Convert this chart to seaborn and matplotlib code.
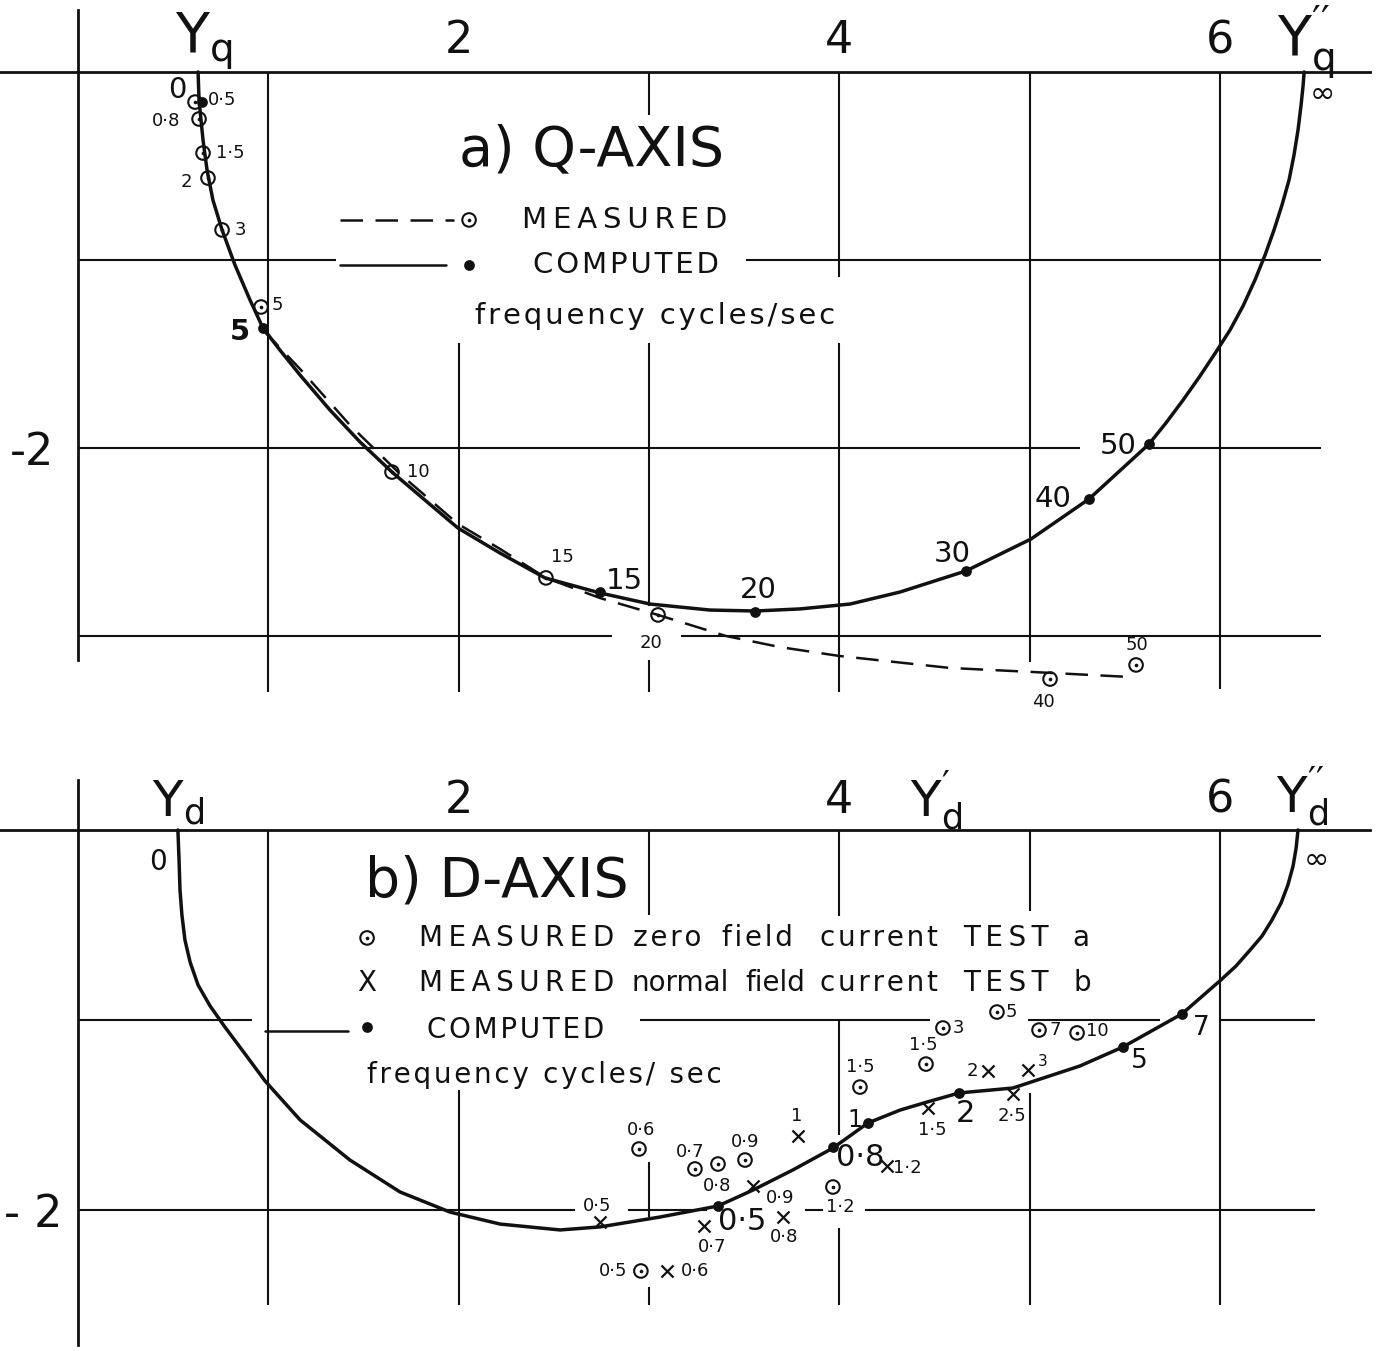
import matplotlib
matplotlib.use("Agg")
import matplotlib.pyplot as plt
from matplotlib.transforms import Affine2D
import seaborn as sns

# ---------------- a) Q-axis admittance locus ----------------
# computed locus (solid line), from Yq down and round to Yq''
q_curve_x = [0.631, 0.636, 0.657, 0.678, 0.709, 0.757, 0.825, 0.904, 0.972, 1.061,
             1.167, 1.324, 1.482, 1.650, 1.823, 1.997, 2.218, 2.454, 2.743, 3.006,
             3.321, 3.558, 3.794, 4.057, 4.320, 4.666, 5.008, 5.313, 5.628, 5.717,
             5.807, 5.896, 5.980, 6.054, 6.122, 6.185, 6.238, 6.285, 6.327, 6.364,
             6.390, 6.411, 6.427, 6.438, 6.443]
q_curve_y = [0.000, -0.149, -0.362, -0.521, -0.681, -0.840, -1.027, -1.213, -1.362, -1.479,
             -1.612, -1.798, -1.968, -2.128, -2.277, -2.426, -2.559, -2.691, -2.771, -2.830,
             -2.862, -2.867, -2.856, -2.830, -2.766, -2.654, -2.484, -2.271, -1.979, -1.867,
             -1.745, -1.617, -1.489, -1.372, -1.245, -1.106, -0.973, -0.840, -0.707, -0.574,
             -0.441, -0.309, -0.176, -0.069, 0.000]
# measured locus (dashed line)
q_meas_line_x = [0.972, 1.167, 1.429, 1.692, 1.997, 2.218, 2.459, 2.743, 3.048, 3.405,
                 3.689, 3.999, 4.582, 5.008, 5.528]
q_meas_line_y = [-1.372, -1.580, -1.878, -2.138, -2.404, -2.537, -2.691, -2.798, -2.888, -3.000,
                 -3.059, -3.106, -3.170, -3.191, -3.218]
# measured points, frequency 0.5, 0.8, 1.5, 2, 3, 5, 10, 15, 20, 40, 50 c/s
q_meas_x = [0.615, 0.636, 0.657, 0.683, 0.757, 0.962, 1.650, 2.459, 3.048, 5.108, 5.560]
q_meas_y = [-0.160, -0.250, -0.431, -0.564, -0.840, -1.250, -2.128, -2.691, -2.888, -3.229, -3.154]
# computed points, frequency 0.5, 5, 15, 20, 30, 40, 50 c/s
q_comp_x = [0.652, 0.972, 2.743, 3.558, 4.666, 5.313, 5.628]
q_comp_y = [-0.160, -1.362, -2.766, -2.872, -2.654, -2.271, -1.979]

# ---------------- b) D-axis admittance locus ----------------
d_curve_x = [0.525, 0.531, 0.536, 0.546, 0.562, 0.589, 0.631, 0.694, 0.772, 0.878,
             0.983, 1.167, 1.429, 1.692, 1.955, 2.218, 2.533, 2.743, 3.058, 3.363,
             3.547, 3.757, 3.967, 4.151, 4.320, 4.461, 4.630, 4.913, 5.265, 5.491,
             5.801, 6.006, 6.085, 6.159, 6.222, 6.274, 6.322, 6.358, 6.385, 6.401, 6.411]
d_curve_y = [0.000, -0.158, -0.316, -0.447, -0.579, -0.695, -0.816, -0.926, -1.037, -1.179,
             -1.321, -1.526, -1.737, -1.905, -2.011, -2.074, -2.105, -2.089, -2.037, -1.979,
             -1.895, -1.789, -1.674, -1.542, -1.474, -1.432, -1.384, -1.358, -1.242, -1.142,
             -0.968, -0.789, -0.716, -0.632, -0.558, -0.474, -0.384, -0.289, -0.190, -0.095,
             0.000]
# computed points, frequency 0.5, 0.8, 1, 2, 5, 7 c/s
d_comp_x = [3.363, 3.967, 4.151, 4.630, 5.491, 5.801]
d_comp_y = [-1.979, -1.668, -1.542, -1.384, -1.142, -0.968]
# measured, zero field current (test a)
d_test_a_x = [2.948, 3.242, 3.363, 3.505, 3.967, 2.958, 4.109, 4.456, 4.545, 4.829, 5.050, 5.250]
d_test_a_y = [-1.679, -1.784, -1.758, -1.737, -1.879, -2.321, -1.353, -1.232, -1.042, -0.958,
              -1.053, -1.068]
# measured, normal field current (test b)
d_test_b_x = [2.743, 3.095, 3.290, 3.547, 3.705, 3.784, 4.251, 4.467, 4.782, 4.913, 4.992]
d_test_b_y = [-2.063, -2.321, -2.084, -1.874, -2.037, -1.611, -1.768, -1.463, -1.268, -1.389,
              -1.263]

x_tick_values = [2, 4, 6]
x_tick_labels = ["2", "4", "6"]

# ---------------------------------------------------------------
sns.set_theme(style="white")
plt.rcParams["font.family"] = ["DejaVu Sans"]
plt.rcParams["mathtext.fontset"] = "dejavusans"
INK = "#111111"

W, H = 1381, 1351
fig = plt.figure(figsize=(W / 100, H / 100), dpi=100)
fig.patch.set_facecolor("white")
# sheet coordinates in pixels, origin top-left, for lettering
sheet = Affine2D().scale(1 / W, -1 / H).translate(0, 1) + fig.transFigure

X0, SX = 78.0, 190.3


def panel(top, bottom, y0, sy):
    ax = fig.add_axes([0, 1 - bottom / H, 1, (bottom - top) / H])
    ax.set_xlim(-X0 / SX, (W - X0) / SX)
    ax.set_ylim(-(bottom - y0) / sy, (y0 - top) / sy)
    ax.patch.set_visible(False)
    return ax


ax_q = panel(0, 720, 72, 188.0)
ax_d = panel(720, H, 830, 190.0)


def curve(ax, xs, ys, **kw):
    sns.lineplot(x=xs, y=ys, sort=False, estimator=None, color=INK, ax=ax, zorder=3, **kw)


def dotted_circles(ax, xs, ys, s=95):
    sns.scatterplot(x=xs, y=ys, marker="o", s=s, facecolor="none", edgecolor=INK,
                    linewidth=1.5, ax=ax, zorder=5)
    sns.scatterplot(x=xs, y=ys, marker="o", s=7, color=INK, edgecolor=INK,
                    linewidth=0, ax=ax, zorder=6)


def dots(ax, xs, ys, s=60):
    sns.scatterplot(x=xs, y=ys, marker="o", s=s, color=INK, edgecolor=INK,
                    linewidth=0, ax=ax, zorder=6)


def crosses(ax, xs, ys, s=75):
    sns.scatterplot(x=xs, y=ys, marker="x", s=s, color=INK, linewidth=1.6, ax=ax, zorder=6)


def frame(ax, xspan, yspan, ylabel, xpad, ypad):
    for side in ("right", "bottom"):
        ax.spines[side].set_visible(False)
    ax.spines["top"].set_position(("data", 0))
    ax.spines["top"].set_bounds(*xspan)
    ax.spines["left"].set_position(("data", 0))
    ax.spines["left"].set_bounds(*yspan)
    for side in ("top", "left"):
        ax.spines[side].set_visible(True)
        ax.spines[side].set_color(INK)
        ax.spines[side].set_linewidth(2.0)
    ax.xaxis.set_ticks_position("top")
    ax.set_xticks(x_tick_values)
    ax.set_xticklabels(x_tick_labels)
    ax.set_yticks([-2])
    ax.set_yticklabels([ylabel])
    ax.tick_params(length=0, labelsize=32, colors=INK, labeltop=True, labelbottom=False)
    ax.tick_params(axis="x", pad=xpad)
    ax.tick_params(axis="y", pad=ypad)
    ax.set_xlabel("")
    ax.set_ylabel("")
    ax.grid(False)


def grid(ax, vert, horiz):
    for x, segs in vert.items():
        for y1, y2 in segs:
            ax.vlines(x, y2, y1, color=INK, lw=1.5, zorder=1)
    for y, segs in horiz.items():
        for x1, x2 in segs:
            ax.hlines(y, x1, x2, color=INK, lw=1.5, zorder=1)


def put(px, py, s, size, **kw):
    kw.setdefault("ha", "center")
    kw.setdefault("va", "center")
    fig.text(px, py, s, transform=sheet, fontsize=size, color=INK, **kw)


def spaced(s, sep="\u200a"):
    return sep.join(s)


# ---------------- panel a ----------------
grid(ax_q,
     {1: [(0, -3.30)], 2: [(-1.44, -3.30)], 3: [(0, -0.23), (-1.44, -2.84), (-3.13, -3.30)],
      4: [(0, -1.09), (-1.44, -3.30)], 5: [(0, -3.14)], 6: [(0, -3.28)]},
     {-1: [(0, 1.356), (3.51, 6.53)], -2: [(0, 5.265), (5.64, 6.53)],
      -3: [(0, 2.807), (3.169, 6.53)]})
curve(ax_q, q_curve_x, q_curve_y, linewidth=2.5)
curve(ax_q, q_meas_line_x, q_meas_line_y, linewidth=1.8, linestyle=(0, (9, 5)))
dotted_circles(ax_q, q_meas_x, q_meas_y)
dots(ax_q, q_comp_x, q_comp_y)
frame(ax_q, (-0.41, 6.79), (-3.13, 0.33), "-2", 7, 17)

# legend glyphs
ax_q.plot([1.377, 1.976], [-0.787, -0.787], color=INK, lw=1.8, ls=(0, (9, 5)))
dotted_circles(ax_q, [2.055], [-0.787])
ax_q.plot([1.377, 1.934], [-1.027, -1.027], color=INK, lw=1.8)
dots(ax_q, [2.055], [-1.027])

put(592, 150, "a) Q-AXIS", 40)
put(625, 220, spaced("MEASURED", "\u2009"), 21)
put(626, 265, spaced("COMPUTED"), 21)
put(655, 316, spaced("frequency cycles/sec"), 21)

# frequency labels
for s, px, py in [("0·5", 222, 100), ("0·8", 166, 121), ("1·5", 230, 153), ("2", 186, 182),
                  ("3", 240, 230), ("5", 277, 305), ("10", 418, 472), ("15", 562, 557),
                  ("20", 651, 643), ("40", 1043, 702), ("50", 1137, 645)]:
    put(px, py, s, 13)
for s, px, py in [("0", 177, 90), ("15", 624, 581), ("20", 758, 590),
                  ("30", 952, 554), ("40", 1053, 499), ("50", 1118, 446)]:
    put(px, py, s, 21)
put(240, 332, "5", 21, fontweight="bold")
put(1322, 94, "∞", 22)

put(175, 52, r"$\mathregular{Y_q}$", 40, ha="left", va="baseline")
put(1277, 55, r"$\mathregular{Y_q^{\prime\prime}}$", 40, ha="left", va="baseline")

# ---------------- panel b ----------------
grid(ax_d,
     {1: [(0, -2.5)], 2: [(-1.37, -2.5)], 3: [(0, -0.447), (-1.747, -2.037), (-2.405, -2.5)],
      4: [(0, -0.45), (-1.0, -1.605), (-2.095, -2.5)], 5: [(0, -0.426), (-1.384, -2.5)],
      6: [(0, -2.5)]},
     {-1: [(0, 0.914), (2.953, 4.477), (4.992, 5.686), (6.006, 6.50)],
      -2: [(0, 2.612), (2.890, 3.305), (3.820, 3.915), (4.136, 6.50)]})
curve(ax_d, d_curve_x, d_curve_y, linewidth=2.5)
dotted_circles(ax_d, d_test_a_x, d_test_a_y)
crosses(ax_d, d_test_b_x, d_test_b_y)
dots(ax_d, d_comp_x, d_comp_y)
frame(ax_d, (-0.41, 6.79), (-2.711, 0.263), "- 2", 6, 11)

# legend glyphs
dotted_circles(ax_d, [1.519], [-0.568])
ax_d.plot([0.983, 1.419], [-1.058, -1.058], color=INK, lw=1.8)
dots(ax_d, [1.519], [-1.037])

put(497, 882, "b) D-AXIS", 40)
put(367, 983, "X", 20)
row_words = [("MEASURED", 517), ("current", 879), ("TEST", 1006)]
for py in (938, 983):
    for w, px in row_words:
        put(px, py, spaced(w, "\u2009") if w.isupper() else spaced(w), 20)
put(667, 938, spaced("zero"), 20)
put(757, 938, spaced("field"), 20)
put(1081, 938, "a", 20)
put(680, 983, "normal", 20)
put(775, 983, "field", 20)
put(1082, 983, "b", 20)
put(516, 1030, spaced("COMPUTED"), 20)
put(544, 1075, spaced("frequency cycles/ sec"), 20)

for s, px, py in [("0·6", 641, 1130), ("0·7", 690, 1152), ("0·9", 745, 1142), ("0·8", 717, 1186),
                  ("0·5", 597, 1206), ("0·9", 780, 1198), ("0·8", 784, 1237), ("0·7", 712, 1247),
                  ("0·5", 613, 1271), ("0·6", 695, 1271), ("1·2", 840, 1207), ("1·2", 907, 1168),
                  ("1", 797, 1116), ("1·5", 860, 1067), ("1·5", 923, 1045), ("3", 958, 1028),
                  ("5", 1011, 1012), ("7", 1055, 1030), ("10", 1097, 1031), ("1·5", 932, 1130),
                  ("2", 972, 1071), ("2·5", 1012, 1116)]:
    put(px, py, s, 13)
put(1043, 1061, "3", 11)
for s, px, py, fs in [("0·5", 742, 1222, 22), ("0·8", 860, 1158, 22), ("1", 855, 1120, 17),
                      ("2", 965, 1113, 22), ("5", 1139, 1061, 19), ("7", 1201, 1028, 19),
                      ("0", 158, 862, 20)]:
    put(px, py, s, fs)
put(1316, 860, "∞", 22)

put(152, 816, r"$\mathregular{Y_d}$", 36, ha="left", va="baseline")
put(910, 816, r"$\mathregular{Y_d^{\prime}}$", 36, ha="left", va="baseline")
put(1276, 812, r"$\mathregular{Y_d^{\prime\prime}}$", 36, ha="left", va="baseline")

fig.savefig("out.png", dpi=100, facecolor="white")
